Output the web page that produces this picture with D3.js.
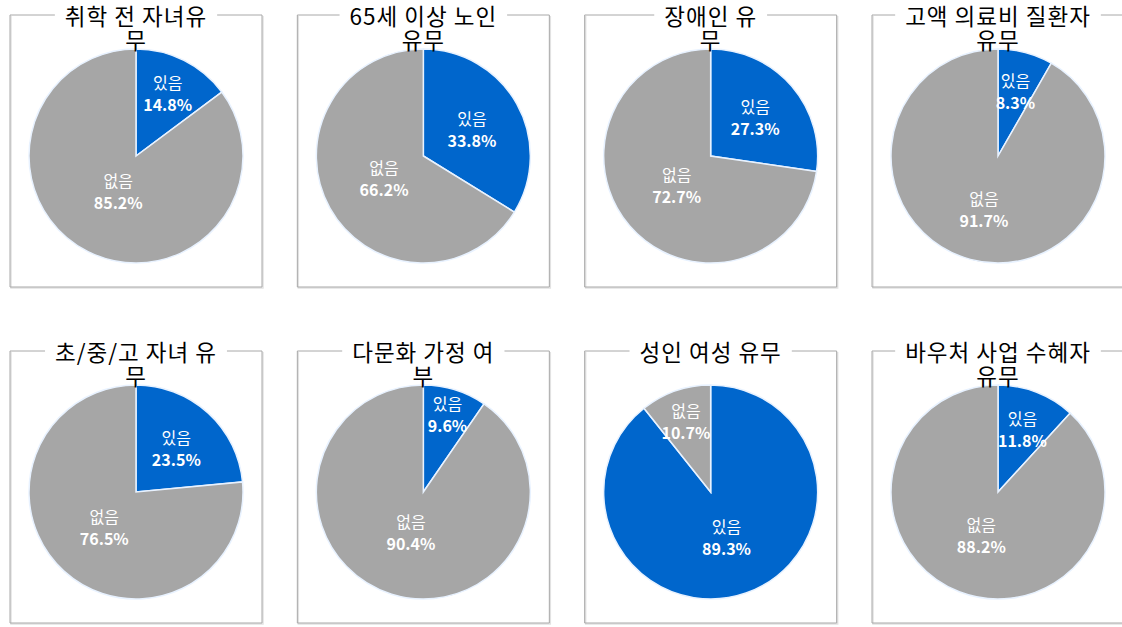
<!DOCTYPE html>
<html><head><meta charset="utf-8">
<script src="https://cdn.jsdelivr.net/npm/d3@7"></script>
<style>
body{margin:0;background:#fff;}
svg{display:block;}
text{font-family:"Noto Sans CJK KR","Noto Sans",sans-serif;}
</style></head>
<body>
<svg id="c" width="1122" height="627"></svg>
<script>
// ---- data ----
const titles = [
  ["취학 전 자녀유", "무"],
  ["65세 이상 노인", "유무"],
  ["장애인 유", "무"],
  ["고액 의료비 질환자", "유무"],
  ["초/중/고 자녀 유", "무"],
  ["다문화 가정 여", "부"],
  ["성인 여성 유무"],
  ["바우처 사업 수혜자", "유무"]
];
const categories = ["있음", "없음"];
const yesValues = [14.8, 33.8, 27.3, 8.3, 23.5, 9.6, 89.3, 11.8];
const noValues  = [85.2, 66.2, 72.7, 91.7, 76.5, 90.4, 10.7, 88.2];
const colors = ["#0066CC", "#A6A6A6"];

// ---- layout (label radius factors for each slice: [yes, no]) ----
const labelR = [[0.66,0.37],[0.52,0.42],[0.55,0.42],[0.63,0.51],[0.56,0.44],[0.76,0.39],[0.45,0.70],[0.63,0.43]];

const svg = d3.select("#c");
const boxW = 252, boxH = 272;
const colX = d3.scalePoint().domain(d3.range(4)).range([10, 872]);
const rowY = d3.scalePoint().domain([0,1]).range([15, 351]);
const R = 107;

const pie = d3.pie().sort(null).value(d => d.v);
const arc = d3.arc().innerRadius(0).outerRadius(R);

titles.forEach((t, i) => {
  const col = i % 4, row = Math.floor(i / 4);
  const x0 = colX(col), y0 = rowY(row);
  const g = svg.append("g").attr("transform", `translate(${x0},${y0})`);
  const cx = boxW / 2;

  // shadow + border (left, right, bottom)
  g.append("path")
    .attr("d", `M1,1 V${boxH+1} H${boxW+1} V1`)
    .attr("fill","none").attr("stroke","#e2e2e2").attr("stroke-width",1.5);
  g.append("path")
    .attr("d", `M0,0 V${boxH} H${boxW} V0`)
    .attr("fill","none").attr("stroke","#a8a8a8").attr("stroke-width",1);

  // pie
  const pg = g.append("g").attr("transform", `translate(${cx},141)`);
  const data = [{k:categories[0], v:yesValues[i], c:colors[0], f:labelR[i][0]},
                {k:categories[1], v:noValues[i], c:colors[1], f:labelR[i][1]}];
  const arcs = pie(data);
  pg.selectAll("path.s").data(arcs).join("path")
    .attr("class","s")
    .attr("d", arc)
    .attr("fill", d => d.data.c)
    .attr("stroke", "#e8f2ff")
    .attr("stroke-width", 1.5);

  arcs.forEach(a => {
    const la = d3.arc().innerRadius(0).outerRadius(2 * R * a.data.f);
    const [lx, ly] = la.centroid(a);
    const tg = pg.append("g").attr("transform", `translate(${lx},${ly})`);
    tg.append("text").attr("text-anchor","middle").attr("y",-4)
      .attr("fill","#fff").attr("font-size",16).text(a.data.k);
    tg.append("text").attr("text-anchor","middle").attr("y",18)
      .attr("fill","#fff").attr("font-size",16).attr("font-weight","600")
      .text(d3.format(".1f")(a.data.v) + "%");
  });

  // title
  const tt = g.append("g");
  const lines = t.map((s, j) => tt.append("text")
      .attr("x", cx).attr("y", 10 + j * 24)
      .attr("text-anchor","middle").attr("font-size",22.5)
      .attr("letter-spacing","1px").attr("fill","#000")
      .text(s));
  const w = lines[0].node().getComputedTextLength();
  const pad = 10;
  g.insert("line", ":first-child").attr("x1",0).attr("x2",cx - w/2 - pad).attr("y1",0).attr("y2",0)
    .attr("stroke","#a8a8a8");
  g.insert("line", ":first-child").attr("x1",cx + w/2 + pad).attr("x2",boxW).attr("y1",0).attr("y2",0)
    .attr("stroke","#a8a8a8");
});
</script>
</body></html>
